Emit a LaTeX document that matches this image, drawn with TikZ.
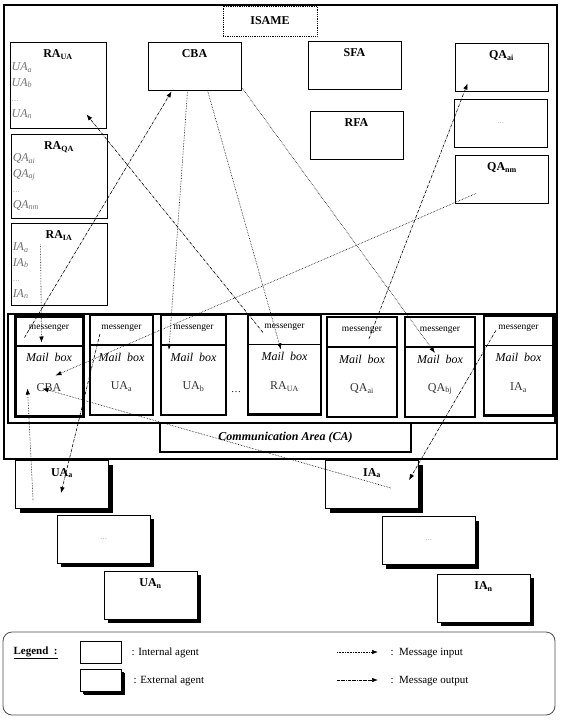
\documentclass[tikz,border=0pt]{standalone}
\usepackage{fontspec}
\setmainfont{Liberation Serif}
\usepackage{tikz}
\usetikzlibrary{arrows.meta,positioning,calc,shadows}
\tikzset{
  intagent/.style={draw, line width=0.9pt, minimum width=93pt, minimum height=48pt,
                   inner sep=0pt, fill=white},
  extagent/.style={intagent, drop shadow={shadow xshift=4pt, shadow yshift=-4pt,
                   fill=black, opacity=1}},
  rabox/.style={intagent, minimum width=96pt},
  title/.style={font=\fontsize{12}{14}\selectfont\bfseries, anchor=north,
                yshift=-7pt, inner sep=1pt},
  listtxt/.style={font=\fontsize{12}{15.5}\selectfont\itshape, text=black!55,
                  align=left, inner sep=1pt, anchor=north west},
  mailbox/.style={draw, line width=2.2pt, minimum height=100pt, inner sep=0pt,
                  path picture={\draw[line width=1.2pt]
                    ([yshift=-30pt]path picture bounding box.north west) --
                    ([yshift=-30pt]path picture bounding box.north east);}},
  msgr/.style={font=\fontsize{9.5}{11}\selectfont, inner sep=0pt},
  mailtxt/.style={font=\fontsize{12}{14}\selectfont\itshape, inner sep=0pt},
  mblabel/.style={font=\fontsize{12}{14}\selectfont, text=black!80, inner sep=0pt},
  dots/.style={font=\fontsize{7}{8}\selectfont, text=black!50},
  msgin/.style={densely dotted, line width=0.6pt, -{Latex[length=6pt,width=4.5pt]}},
  msgout/.style={densely dash dot, line width=0.6pt, -{Latex[length=6pt,width=4.5pt]}},
}

\begin{document}
\begin{tikzpicture}[x=1pt, y=-1pt]
  \useasboundingbox (0,0) rectangle (561,723);

  % ISAME frame
  \node[draw, line width=2.5pt, minimum width=553pt, minimum height=454pt] (isame) at (280.5,232) {};
  \node[draw, densely dotted, line width=0.8pt, fill=white, minimum width=94pt, minimum height=30pt,
        font=\fontsize{12}{14}\selectfont\bfseries] (isamelbl) at (270,21) {ISAME};

  % internal agents
  \node[rabox, minimum height=86pt, label={[title]north:RA\textsubscript{UA}}] (raua) at (58,85) {};
  \node[listtxt] (raualist) at ($(raua.north west)+(1,20)$)
    {UA\textsubscript{a}\\UA\textsubscript{b}\\{\upshape\fontsize{7}{8}\selectfont\dots}\\UA\textsubscript{n}};
  \node[rabox, minimum height=84pt, label={[title]north:RA\textsubscript{QA}}] (raqa) at (59,176) {};
  \node[listtxt] (raqalist) at ($(raqa.north west)+(1,19)$)
    {QA\textsubscript{ai}\\QA\textsubscript{aj}\\{\upshape\fontsize{7}{8}\selectfont\dots}\\QA\textsubscript{nm}};
  \node[rabox, minimum height=82pt, label={[title]north:RA\textsubscript{IA}}] (raia) at (59,264) {};
  \node[listtxt] (raialist) at ($(raia.north west)+(1,19)$)
    {IA\textsubscript{a}\\IA\textsubscript{b}\\{\upshape\fontsize{7}{8}\selectfont\dots}\\IA\textsubscript{n}};

  \node[intagent, label={[title]north:CBA}] (cba) at (194.5,66) {};
  \node[intagent, label={[title]north:SFA}] (sfa) at (354.5,65) {};
  \node[intagent, label={[title]north:RFA}] (rfa) at (356.5,135) {};
  \node[intagent, label={[title]north:QA\textsubscript{ai}}] (qaai) at (501.5,67) {};
  \node[intagent, dots] (qadots) at (500.5,123) {\dots};
  \node[intagent, label={[title]north:QA\textsubscript{nm}}] (qanm) at (502,179) {};

  % communication area
  \node[draw, line width=2.5pt, minimum width=547pt, minimum height=109pt] (commzone) at (281.5,368.5) {};
  \node[draw, line width=1.8pt, minimum width=251pt, minimum height=29pt,
        font=\fontsize{12}{14}\selectfont\bfseries\itshape] (ca) at (285.5,437.5) {Communication Area (CA)};

  \node[mailbox, minimum width=68pt, line width=3pt] (mbcba) at (49,366) {};
  \node[msgr] (msgcba) at ([yshift=-14pt]mbcba.north) {messenger};
  \node[mailtxt] (mailcba) at ([yshift=-43pt]mbcba.north) {Mail\ \ box};
  \node[mblabel] (lblcba) at ([yshift=-73pt]mbcba.north) {CBA};

  \node[mailbox, minimum width=63pt] (mbuaa) at (121.5,365) {};
  \node[msgr] (msguaa) at ([yshift=-14pt]mbuaa.north) {messenger};
  \node[mailtxt] (mailuaa) at ([yshift=-43pt]mbuaa.north) {Mail\ \ box};
  \node[mblabel] (lbluaa) at ([yshift=-73pt]mbuaa.north) {UA\textsubscript{a}};

  \node[mailbox, minimum width=65pt] (mbuab) at (193.5,365) {};
  \node[msgr] (msguab) at ([yshift=-14pt]mbuab.north) {messenger};
  \node[mailtxt] (mailuab) at ([yshift=-43pt]mbuab.north) {Mail\ \ box};
  \node[mblabel] (lbluab) at ([yshift=-73pt]mbuab.north) {UA\textsubscript{b}};

  \node[font=\fontsize{10}{12}\selectfont] (mbdots) at (236,392) {\dots};

  \node[mailbox, minimum width=73pt] (mbraua) at (284.5,364.5) {};
  \node[msgr] (msgraua) at ([yshift=-14pt]mbraua.north) {messenger};
  \node[mailtxt] (mailraua) at ([yshift=-43pt]mbraua.north) {Mail\ \ box};
  \node[mblabel] (lblraua) at ([yshift=-73pt]mbraua.north) {RA\textsubscript{UA}};

  \node[mailbox, minimum width=70pt] (mbqaai) at (362,367) {};
  \node[msgr] (msgqaai) at ([yshift=-14pt]mbqaai.north) {messenger};
  \node[mailtxt] (mailqaai) at ([yshift=-43pt]mbqaai.north) {Mail\ \ box};
  \node[mblabel] (lblqaai) at ([yshift=-73pt]mbqaai.north) {QA\textsubscript{ai}};

  \node[mailbox, minimum width=70pt] (mbqabj) at (440,367) {};
  \node[msgr] (msgqabj) at ([yshift=-14pt]mbqabj.north) {messenger};
  \node[mailtxt] (mailqabj) at ([yshift=-43pt]mbqabj.north) {Mail\ \ box};
  \node[mblabel] (lblqabj) at ([yshift=-73pt]mbqabj.north) {QA\textsubscript{bj}};

  \node[mailbox, minimum width=69pt] (mbiaa) at (518.5,365.5) {};
  \node[msgr] (msgiaa) at ([yshift=-14pt]mbiaa.north) {messenger};
  \node[mailtxt] (mailiaa) at ([yshift=-43pt]mbiaa.north) {Mail\ \ box};
  \node[mblabel] (lbliaa) at ([yshift=-73pt]mbiaa.north) {IA\textsubscript{a}};

  % external agents
  \node[extagent, label={[title]north:UA\textsubscript{a}}] (extuaa) at (62,484.5) {};
  \node[extagent, dots] (extuadots) at (103.5,539) {\dots};
  \node[extagent, label={[title]north:UA\textsubscript{n}}] (extuan) at (150.5,595) {};
  \node[extagent, label={[title]north:IA\textsubscript{a}}] (extiaa) at (372,484.5) {};
  \node[extagent, dots] (extiadots) at (428.5,540.5) {\dots};
  \node[extagent, label={[title]north:IA\textsubscript{n}}] (extian) at (483.5,598) {};

  % messages
  \draw[msgin] ($(raia.north west)+(30,22)$) -- ($(mbcba.north west)+(28,28)$);
  \draw[msgout] ($(mbcba.north west)+(11,23)$) -- ($(cba.south west)+(24,1)$);
  \draw[msgin] ($(cba.south west)+(40,0)$) -- ($(mbuab.north west)+(9,36)$);
  \draw[msgin] ($(cba.south west)+(60,0)$) -- ($(mbraua.north west)+(34,36)$);
  \draw[msgin] ($(cba.south east)+(1,-2)$) -- ($(mbqabj.north west)+(31,37)$);
  \draw[msgout] ($(mbraua.north west)+(16,19)$) -- ($(raua.south west)+(77,-14)$);
  \draw[msgin] ($(qanm.south west)+(21,-10)$) -- ($(mbcba.north west)+(42,61)$);
  \draw[msgout] ($(mbqaai.north west)+(43,23)$) -- ($(qaai.south west)+(13,-8)$);
  \draw[msgin] ($(extuaa.north west)+(18,40)$) -- ($(mbcba.north west)+(14,74)$);
  \draw[msgout] ($(mbuaa.north west)+(11,20)$) -- ($(extuaa.north west)+(46,33)$);
  \draw[msgin] ($(extiaa.north west)+(66,28)$) -- ($(mbcba.north west)+(29,74)$);
  \draw[msgout] ($(mbiaa.north west)+(13,16)$) -- ($(extiaa.north west)+(84,20)$);

  % legend
  \node[draw, line width=0.8pt, draw=black!70, rounded corners=9pt,
        minimum width=552pt, minimum height=83pt] (legend) at (279,673.5) {};
  \node[anchor=west, font=\fontsize{11}{13}\selectfont\bfseries] (legendlbl) at (10,653)
    {\underline{Legend\ \ :}};
  \node[intagent, minimum width=41pt, minimum height=22pt] (keyint) at (100.5,652) {};
  \node[extagent, minimum width=41pt, minimum height=22pt,
        drop shadow={shadow xshift=3pt, shadow yshift=-3pt, fill=black, opacity=1}] (keyext) at (100.5,680) {};
  \node[anchor=west, font=\fontsize{11}{13}\selectfont] (keyinttxt) at (128,653) {: Internal agent};
  \node[anchor=west, font=\fontsize{11}{13}\selectfont] (keyexttxt) at (130,681) {: External agent};
  \coordinate (inA) at (337,652);
  \coordinate (inB) at (378,652);
  \coordinate (outA) at (337,680);
  \coordinate (outB) at (378,680);
  \draw[msgin] (inA) -- (inB);
  \draw[msgout] (outA) -- (outB);
  \node[anchor=west, font=\fontsize{11}{13}\selectfont] (keyintxt) at (387,653) {:\ \ Message input};
  \node[anchor=west, font=\fontsize{11}{13}\selectfont] (keyouttxt) at (387,681) {:\ \ Message output};
\end{tikzpicture}
\end{document}
